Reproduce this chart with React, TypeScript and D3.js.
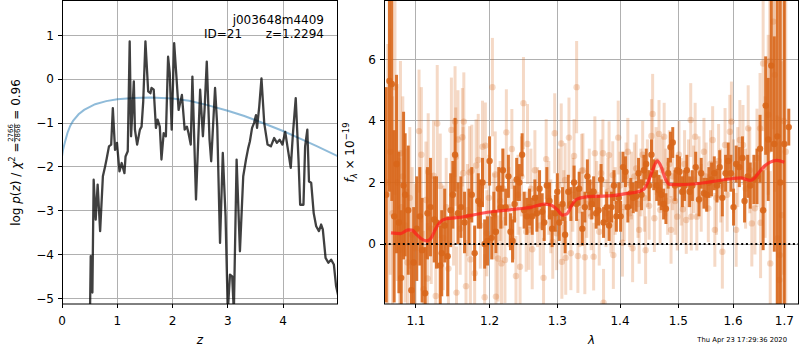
import React, { useEffect, useRef } from "react";
import * as d3 from "d3";

// ---------- data ----------
const zTicks = [0, 1, 2, 3, 4];
const logpTicks = [-5, -4, -3, -2, -1, 0, 1];
const lamTicks = [1.1, 1.2, 1.3, 1.4, 1.5, 1.6, 1.7];
const fluxTicks = [0, 2, 4, 6];

const objName = "j003648m4409";
const idLabel = "ID=21";
const zLabel = "z=1.2294";
const chi2Num = "2766";
const chi2Den = "2868";
const chi2Val = "0.96";
const stamp = "Thu Apr 23 17:29:36 2020";

// log p(z): [z, log p]
const pzCurve: [number, number][] = [
  [0.49, -6.0], [0.507, -5.3], [0.52, -4.03], [0.535, -4.1], [0.55, -4.86], [0.573, -2.29],
  [0.61, -3.2], [0.645, -2.4], [0.69, -3.46], [0.74, -2.21], [0.78, -1.99], [0.81, -1.8],
  [0.85, -1.53], [0.89, -1.49], [0.92, -0.66], [0.96, -1.61], [0.995, -1.45], [1.04, -2.1],
  [1.08, -1.91], [1.13, -2.14], [1.15, -1.76], [1.19, -1.64], [1.225, 0.86], [1.25, -1.3],
  [1.3, -0.05], [1.32, -1.15], [1.36, -1.49], [1.41, -1.15], [1.44, -1.08], [1.47, -0.51],
  [1.51, 0.86], [1.56, -0.28], [1.6, -0.32], [1.62, -0.2], [1.66, -0.24], [1.7, -1.11],
  [1.73, -0.92], [1.77, -1.08], [1.8, -1.83], [1.84, -1.23], [1.88, -1.3], [1.92, 0.51],
  [1.95, 0.14], [1.985, -1.15], [2.03, 0.82], [2.075, -0.02], [2.11, -0.7], [2.17, -0.36],
  [2.22, -1.15], [2.26, -1.08], [2.29, -1.23], [2.33, -1.49], [2.36, 0.06], [2.425, -2.74],
  [2.5, -0.24], [2.55, -1.3], [2.58, -0.7], [2.62, 0.4], [2.67, -1.38], [2.7, -1.87],
  [2.77, -0.2], [2.81, -1.08], [2.86, -3.73], [2.91, -1.68], [2.96, -3.12], [3.0, -5.3],
  [3.04, -4.45], [3.08, -4.49], [3.11, -5.3], [3.16, -1.83], [3.22, -3.92], [3.28, -2.21],
  [3.33, -1.83], [3.37, -1.57], [3.4, -1.42], [3.44, -1.11], [3.475, -1.0], [3.51, -0.82],
  [3.53, -1.11], [3.57, -0.62], [3.61, 0.02], [3.66, -1.0], [3.72, -1.49], [3.78, -1.53],
  [3.84, -1.34], [3.89, -1.45], [3.94, -1.38], [3.99, -1.49], [4.04, -1.2], [4.08, -1.53],
  [4.14, -2.02], [4.18, -1.23], [4.23, -0.43], [4.28, -1.83], [4.31, -2.86], [4.37, -2.86],
  [4.4, -1.53], [4.44, -1.15], [4.47, -2.33], [4.51, -2.36], [4.555, -3.05], [4.6, -3.35],
  [4.65, -3.46], [4.69, -3.31], [4.72, -3.42], [4.77, -4.07], [4.82, -4.18], [4.87, -4.11],
  [4.92, -4.22], [4.96, -4.71], [5.0, -4.94],
];

// prior: [z, log p]
const priorCurve: [number, number][] = [
  [0, -1.76], [0.02, -1.6], [0.05, -1.45], [0.1, -1.22], [0.15, -1.06], [0.2, -0.95],
  [0.3, -0.8], [0.4, -0.7], [0.6, -0.57], [0.8, -0.5], [1.0, -0.46], [1.3, -0.43],
  [1.6, -0.42], [2.0, -0.44], [2.3, -0.49], [2.6, -0.58], [3.0, -0.72], [3.3, -0.84],
  [3.6, -0.98], [4.0, -1.18], [4.3, -1.35], [4.6, -1.52], [5.0, -1.76],
];

// model: [lambda, flux]
const modelCurve: [number, number][] = [
  [1.068, 0.36], [1.08, 0.34], [1.09, 0.46], [1.095, 0.45], [1.1, 0.33], [1.107, 0.17],
  [1.114, 0.1], [1.12, 0.2], [1.126, 0.5], [1.132, 0.72], [1.14, 0.82], [1.16, 0.87],
  [1.18, 0.96], [1.2, 1.04], [1.22, 1.09], [1.24, 1.14], [1.26, 1.19], [1.28, 1.3],
  [1.29, 1.27], [1.3, 1.12], [1.308, 0.94], [1.315, 0.98], [1.322, 1.25], [1.33, 1.45],
  [1.345, 1.53], [1.36, 1.55], [1.388, 1.57], [1.41, 1.64], [1.43, 1.7], [1.44, 1.78],
  [1.45, 2.15], [1.457, 2.5], [1.463, 2.7], [1.47, 2.5], [1.477, 2.12], [1.484, 1.94],
  [1.5, 1.93], [1.527, 1.95], [1.55, 2.0], [1.58, 2.08], [1.6, 2.13], [1.615, 2.15],
  [1.625, 2.1], [1.632, 2.07], [1.64, 2.12], [1.65, 2.33], [1.66, 2.52], [1.672, 2.66],
  [1.685, 2.72], [1.7, 2.66],
];

// dark spectrum points: [lambda, flux, err]
const darkSpec: [number, number, number][] = [
  [1.062, 1.6, 3.5], [1.066, 5.3, 3.6], [1.069, 5.2, 3.8], [1.072, 0.9, 2.8], [1.075, 2.6, 2.9],
  [1.078, 0.7, 2.3], [1.081, -1.1, 2.2], [1.084, 1.9, 2.4], [1.086, 1.6, 2.0], [1.09, 1.1, 2.1],
  [1.094, -1.5, 1.9], [1.097, -0.6, 1.8], [1.101, 0.5, 1.7], [1.105, 0.9, 1.6], [1.108, -0.2, 1.7],
  [1.112, -1.6, 1.5], [1.115, 1.0, 1.5], [1.119, 1.2, 1.6], [1.124, 0.8, 1.4], [1.127, 0.7, 1.5],
  [1.132, -0.7, 1.3], [1.134, -0.3, 1.4], [1.138, 0.6, 1.2], [1.142, -0.4, 1.3], [1.146, 1.1, 1.2],
  [1.149, 1.6, 1.1], [1.152, 2.9, 1.2], [1.156, 1.0, 1.0], [1.16, 1.2, 1.0], [1.165, 0.7, 1.0],
  [1.171, 0.9, 0.9], [1.175, 1.6, 0.9], [1.179, -0.3, 0.9], [1.184, 1.4, 0.9], [1.187, 1.3, 0.8],
  [1.19, 2.0, 0.8], [1.193, 0.0, 0.8], [1.197, 0.1, 0.8], [1.2, 2.7, 0.8], [1.203, 0.2, 0.7],
  [1.206, 1.0, 0.7], [1.209, 0.4, 0.7], [1.213, 1.8, 0.7], [1.216, 1.2, 0.7], [1.219, 2.4, 0.7],
  [1.223, 1.2, 0.6], [1.227, 2.2, 0.7], [1.23, 0.4, 0.6], [1.233, 0.1, 0.7], [1.236, 1.3, 0.6],
  [1.239, 2.1, 0.7], [1.243, 2.0, 0.6], [1.247, 2.9, 0.7], [1.25, 1.1, 0.6], [1.254, 0.9, 0.6],
  [1.258, 1.2, 0.6], [1.262, 0.9, 0.6], [1.266, 1.5, 0.6], [1.269, 1.0, 0.6], [1.273, 1.8, 0.6],
  [1.277, 1.05, 0.6], [1.28, 0.7, 0.6], [1.284, 1.9, 0.6], [1.288, 1.4, 0.6], [1.292, 0.5, 0.6],
  [1.297, 1.0, 0.6], [1.3, 1.7, 0.6], [1.303, 0.7, 0.6], [1.308, 1.3, 0.55], [1.312, 0.3, 0.6],
  [1.317, 1.7, 0.55], [1.321, 1.3, 0.55], [1.326, 2.0, 0.55], [1.33, 1.3, 0.55], [1.334, 1.8, 0.55],
  [1.339, 0.5, 0.55], [1.343, 1.2, 0.5], [1.347, 2.2, 0.55], [1.351, 1.6, 0.5], [1.354, 1.3, 0.5],
  [1.357, 1.7, 0.5], [1.361, 1.0, 0.5], [1.365, 1.1, 0.5], [1.369, 2.1, 0.5], [1.373, 0.7, 0.5],
  [1.378, 1.2, 0.5], [1.382, 0.6, 0.5], [1.386, 1.2, 0.5], [1.39, 1.9, 0.5], [1.394, 0.9, 0.5],
  [1.398, 1.5, 0.5], [1.401, 0.9, 0.5], [1.405, 2.5, 0.5], [1.409, 2.35, 0.5], [1.413, 1.2, 0.5],
  [1.418, 1.65, 0.5], [1.422, 1.5, 0.5], [1.427, 1.55, 0.5], [1.431, 2.3, 0.5], [1.436, 1.6, 0.5],
  [1.44, 2.4, 0.5], [1.444, 2.6, 0.5], [1.449, 1.9, 0.5], [1.453, 2.9, 0.5], [1.457, 2.25, 0.5],
  [1.462, 1.9, 0.5], [1.466, 1.75, 0.5], [1.47, 1.6, 0.5], [1.474, 1.3, 0.5], [1.478, 1.15, 0.5],
  [1.482, 2.3, 0.5], [1.486, 3.15, 0.5], [1.49, 3.3, 0.5], [1.494, 1.9, 0.5], [1.498, 2.4, 0.5],
  [1.502, 2.35, 0.5], [1.507, 1.7, 0.5], [1.511, 1.9, 0.5], [1.515, 2.4, 0.5], [1.52, 1.7, 0.5],
  [1.525, 1.9, 0.5], [1.531, 2.5, 0.5], [1.537, 1.45, 0.55], [1.541, 2.3, 0.5], [1.546, 1.65, 0.5],
  [1.551, 1.6, 0.55], [1.555, 2.0, 0.5], [1.56, 2.1, 0.55], [1.565, 2.3, 0.55], [1.57, 1.9, 0.55],
  [1.575, 2.5, 0.55], [1.58, 1.5, 0.6], [1.586, 2.3, 0.6], [1.591, 2.7, 0.6], [1.596, 2.3, 0.6],
  [1.601, 1.2, 0.6], [1.606, 2.6, 0.6], [1.612, 2.5, 0.65], [1.618, 2.8, 0.7], [1.622, 1.4, 0.7],
  [1.628, 2.2, 0.7], [1.633, 1.9, 0.75], [1.64, 2.1, 0.8], [1.646, 2.2, 0.9], [1.652, 3.1, 1.1],
  [1.658, 1.1, 1.3], [1.663, 4.5, 1.6], [1.668, 3.4, 2.0], [1.674, 5.8, 2.8], [1.68, 3.25, 3.5],
  [1.686, 3.5, 5.5], [1.692, 2.0, 6.0], [1.7, 3.25, 6.0], [1.709, 3.8, 0.6],
];

// light spectrum points: [lambda, flux, err]
const lightSpec: [number, number, number][] = [
  [1.064, 2.0, 4.5], [1.067, 3.0, 4.0], [1.07, 1.0, 3.8], [1.073, 5.1, 3.5], [1.076, 2.0, 3.2],
  [1.079, -0.2, 3.0], [1.08, 2.95, 3.0], [1.081, 1.2, 2.8], [1.083, 2.2, 2.6], [1.086, 0.6, 2.5],
  [1.089, -0.6, 2.4], [1.092, 1.5, 2.3], [1.095, 0.3, 2.2], [1.099, -0.14, 2.1], [1.104, 3.67, 2.0],
  [1.107, 2.9, 2.2], [1.11, -1.47, 1.9], [1.113, 1.43, 1.9], [1.115, -1.12, 1.8], [1.116, 2.35, 1.9],
  [1.12, 0.5, 1.8], [1.123, 2.22, 1.8], [1.126, -1.69, 1.7], [1.128, 3.92, 1.9], [1.132, 1.89, 1.7],
  [1.136, 0.2, 1.7], [1.14, 1.2, 1.6], [1.143, -0.8, 1.6], [1.147, 3.71, 1.7], [1.15, 0.9, 1.6],
  [1.152, 3.98, 1.8], [1.153, 2.84, 1.6], [1.154, -1.58, 1.5], [1.156, 3.4, 1.6], [1.159, 0.5, 1.5],
  [1.162, 3.47, 1.6], [1.163, 2.3, 1.5], [1.164, 3.98, 1.6], [1.167, -1.37, 1.5], [1.169, 1.1, 1.5],
  [1.172, 2.33, 1.5], [1.173, -0.5, 1.5], [1.175, 2.38, 1.5], [1.179, -0.95, 1.5], [1.181, 2.55, 1.5],
  [1.184, 2.73, 1.5], [1.187, 0.6, 1.4], [1.19, 3.16, 1.5], [1.193, -1.73, 1.4], [1.194, 3.2, 1.4],
  [1.196, 0.35, 1.4], [1.199, 1.5, 1.4], [1.204, 5.1, 1.6], [1.206, 0.9, 1.4], [1.208, 2.26, 1.4],
  [1.209, -1.71, 1.4], [1.212, -0.47, 1.4], [1.215, 1.4, 1.3], [1.217, -0.63, 1.4], [1.219, 1.81, 1.3],
  [1.222, -0.52, 1.4], [1.224, 3.63, 1.4], [1.228, 1.2, 1.3], [1.232, 3.09, 1.3], [1.234, 0.8, 1.3],
  [1.238, -1.04, 1.3], [1.241, 1.6, 1.3], [1.244, -0.74, 1.3], [1.246, 2.2, 1.3], [1.249, 4.58, 1.5],
  [1.253, 0.4, 1.3], [1.255, 3.25, 1.3], [1.257, 0.46, 1.3], [1.26, 1.8, 1.3], [1.262, -0.17, 1.3],
  [1.266, 2.4, 1.3], [1.27, 1.2, 1.3], [1.274, 0.6, 1.3], [1.279, -1.1, 1.3], [1.283, 2.76, 1.3],
  [1.287, 1.5, 1.2], [1.29, 0.9, 1.2], [1.293, 0.07, 1.2], [1.296, 3.6, 1.3], [1.299, 0.35, 1.2],
  [1.302, 1.9, 1.2], [1.306, 3.27, 1.3], [1.307, -0.58, 1.2], [1.31, 1.2, 1.2], [1.312, 2.08, 1.2],
  [1.313, -0.45, 1.2], [1.318, 3.46, 1.3], [1.321, -0.3, 1.2], [1.324, 1.6, 1.2], [1.326, 2.86, 1.2],
  [1.33, 5.1, 1.5], [1.332, -0.39, 1.2], [1.335, 1.1, 1.2], [1.338, 2.38, 1.2], [1.34, 2.4, 1.2],
  [1.343, -0.43, 1.2], [1.346, 1.3, 1.1], [1.35, 2.0, 1.1], [1.353, 0.9, 1.1], [1.357, -0.41, 1.1],
  [1.359, 2.95, 1.2], [1.362, 1.6, 1.1], [1.366, 0.4, 1.1], [1.369, 2.3, 1.1], [1.372, 2.95, 1.1],
  [1.373, -1.91, 1.1], [1.377, 1.0, 1.1], [1.38, 1.7, 1.1], [1.382, 2.89, 1.1], [1.385, 0.8, 1.1],
  [1.388, 2.24, 1.1], [1.389, -0.36, 1.1], [1.392, 1.4, 1.1], [1.397, 3.46, 1.2], [1.4, 1.9, 1.1],
  [1.404, 0.04, 1.1], [1.407, 1.2, 1.1], [1.41, 2.2, 1.1], [1.413, 3.0, 1.1], [1.416, 1.0, 1.1],
  [1.419, 1.9, 1.1], [1.421, -0.14, 1.1], [1.424, 2.2, 1.1], [1.427, 2.46, 1.1], [1.43, 1.3, 1.1],
  [1.432, 0.46, 1.1], [1.435, 2.0, 1.1], [1.438, 2.9, 1.1], [1.441, 1.5, 1.1], [1.443, -0.2, 1.1],
  [1.446, 2.3, 1.1], [1.449, 1.24, 1.1], [1.453, 3.51, 1.2], [1.455, 4.23, 1.3], [1.458, 0.84, 1.1],
  [1.461, 2.7, 1.1], [1.466, 3.58, 1.1], [1.468, 1.11, 1.1], [1.471, 2.4, 1.1], [1.475, 3.49, 1.1],
  [1.478, 2.0, 1.1], [1.481, 1.4, 1.1], [1.484, 2.6, 1.1], [1.487, 0.46, 1.1], [1.49, 2.2, 1.1],
  [1.494, 1.4, 1.1], [1.498, 0.89, 1.1], [1.501, 2.9, 1.1], [1.505, 1.7, 1.1], [1.508, 1.13, 1.1],
  [1.511, 2.6, 1.1], [1.514, 0.78, 1.1], [1.518, 2.3, 1.1], [1.522, 4.03, 1.2], [1.523, 0.89, 1.1],
  [1.527, 2.1, 1.1], [1.53, 3.49, 1.1], [1.533, 0.89, 1.1], [1.537, 2.4, 1.1], [1.541, 1.5, 1.1],
  [1.546, 3.0, 1.1], [1.55, 2.2, 1.1], [1.554, 1.16, 1.1], [1.558, 2.6, 1.1], [1.562, 3.38, 1.1],
  [1.566, 0.46, 1.2], [1.569, 1.5, 1.2], [1.573, 2.7, 1.2], [1.577, 1.9, 1.2], [1.58, -0.25, 1.2],
  [1.585, 3.22, 1.2], [1.589, 1.6, 1.2], [1.594, 3.65, 1.2], [1.597, 3.98, 1.3], [1.601, 2.2, 1.2],
  [1.606, 0.46, 1.2], [1.609, 2.5, 1.3], [1.613, 3.38, 1.3], [1.619, 3.22, 1.3], [1.624, 1.8, 1.3],
  [1.629, 3.76, 1.4], [1.632, 2.4, 1.4], [1.636, 0.67, 1.4], [1.642, 1.16, 1.5], [1.646, 2.8, 1.6],
  [1.652, 3.76, 1.8], [1.653, 0.69, 1.8], [1.658, 5.87, 2.2], [1.662, 2.5, 2.3], [1.668, 4.2, 2.6],
  [1.671, 5.95, 3.0], [1.672, -0.63, 3.0], [1.678, 7.23, 3.5], [1.681, 5.5, 3.8], [1.686, 0.18, 4.0],
  [1.69, -1.17, 4.5], [1.691, -0.36, 4.5], [1.695, 0.94, 5.0], [1.699, 4.0, 5.0], [1.703, 3.0, 5.5],
];

// ---------- drawing ----------
const FONT = "DejaVu Sans, sans-serif";
const ORANGE = "#d8661a";

function fmt(v: number, digits = 0) {
  const s = v.toFixed(digits);
  return s.replace("-", "\u2212");
}

function draw(el: SVGSVGElement) {
  const svg = d3.select(el);
  svg.selectAll("*").remove();
  svg.append("rect").attr("width", 800).attr("height", 350).attr("fill", "white");

  const L = { x0: 62, x1: 338, y0: 1, y1: 304 };
  const R = { x0: 384, x1: 799, y0: 1, y1: 304 };

  const xz = d3.scaleLinear().domain([0, 4.995]).range([L.x0, L.x1]);
  const yp = d3.scaleLinear().domain([-5.12, 1.78]).range([L.y1, L.y0]);
  const xl = d3.scaleLog().domain([1.0592, 1.7298]).range([R.x0, R.x1]);
  const yf = d3.scaleLinear().domain([-1.95, 7.9]).range([R.y1, R.y0]);

  const defs = svg.append("defs");
  defs.append("clipPath").attr("id", "clipL").append("rect")
    .attr("x", L.x0).attr("y", L.y0).attr("width", L.x1 - L.x0).attr("height", L.y1 - L.y0);
  defs.append("clipPath").attr("id", "clipR").append("rect")
    .attr("x", R.x0).attr("y", R.y0).attr("width", R.x1 - R.x0).attr("height", R.y1 - R.y0);

  const grid = "#b0b0b0";
  const crisp = (v: number) => Math.round(v - 0.5) + 0.5;

  // ---- Left panel grid ----
  const gL = svg.append("g");
  zTicks.forEach((t) => {
    gL.append("line").attr("x1", crisp(xz(t))).attr("x2", crisp(xz(t))).attr("y1", L.y0).attr("y2", L.y1)
      .attr("stroke", grid).attr("stroke-width", 1);
  });
  logpTicks.forEach((t) => {
    gL.append("line").attr("y1", crisp(yp(t))).attr("y2", crisp(yp(t))).attr("x1", L.x0).attr("x2", L.x1)
      .attr("stroke", grid).attr("stroke-width", 1);
  });

  const lineL = d3.line<[number, number]>().x((d) => xz(d[0])).y((d) => yp(d[1]));
  const dataL = svg.append("g").attr("clip-path", "url(#clipL)");
  dataL.append("path").attr("d", lineL(priorCurve) as string).attr("fill", "none")
    .attr("stroke", "#1f77b4").attr("stroke-opacity", 0.5).attr("stroke-width", 2);
  dataL.append("path").attr("d", lineL(pzCurve) as string).attr("fill", "none")
    .attr("stroke", "#000").attr("stroke-opacity", 0.75).attr("stroke-width", 2.3)
    .attr("stroke-linejoin", "round");

  // ---- Right panel grid ----
  const gR = svg.append("g");
  lamTicks.forEach((t) => {
    gR.append("line").attr("x1", crisp(xl(t))).attr("x2", crisp(xl(t))).attr("y1", R.y0).attr("y2", R.y1)
      .attr("stroke", grid).attr("stroke-width", 1);
  });
  fluxTicks.forEach((t) => {
    gR.append("line").attr("y1", crisp(yf(t))).attr("y2", crisp(yf(t))).attr("x1", R.x0).attr("x2", R.x1)
      .attr("stroke", grid).attr("stroke-width", 1);
  });

  const dataR = svg.append("g").attr("clip-path", "url(#clipR)");
  const drawSpec = (pts: [number, number, number][], opacity: number) => {
    const g = dataR.append("g").attr("opacity", 1);
    pts.forEach(([l, f, e]) => {
      g.append("line").attr("x1", xl(l)).attr("x2", xl(l)).attr("y1", yf(f - e)).attr("y2", yf(f + e))
        .attr("stroke", ORANGE).attr("stroke-opacity", opacity).attr("stroke-width", 3);
    });
    pts.forEach(([l, f]) => {
      g.append("circle").attr("cx", xl(l)).attr("cy", yf(f)).attr("r", 3.2)
        .attr("fill", ORANGE).attr("fill-opacity", opacity);
    });
  };
  drawSpec(lightSpec, 0.25);
  drawSpec(darkSpec, 0.9);

  const lineR = d3.line<[number, number]>().x((d) => xl(d[0])).y((d) => yf(d[1])).curve(d3.curveMonotoneX);
  dataR.append("path").attr("d", lineR(modelCurve) as string).attr("fill", "none")
    .attr("stroke", "#ff1a1a").attr("stroke-opacity", 0.7).attr("stroke-width", 3.2)
    .attr("stroke-linejoin", "round");

  dataR.append("line").attr("x1", R.x0).attr("x2", R.x1).attr("y1", yf(0)).attr("y2", yf(0))
    .attr("stroke", "#000").attr("stroke-width", 2).attr("stroke-dasharray", "2 2.7");

  // ---- frames ----
  [L, R].forEach((P) => {
    svg.append("rect").attr("x", P.x0 + 0.5).attr("y", P.y0 - 0.5).attr("width", P.x1 - P.x0 - 1)
      .attr("height", P.y1 - P.y0 + 0.5).attr("fill", "none").attr("stroke", "#000").attr("stroke-width", 1);
  });

  // ---- ticks & labels ----
  const tickLen = 4;
  const labelY = 325;
  const axes = svg.append("g").attr("font-family", FONT).attr("font-size", 12).attr("fill", "#000");

  zTicks.forEach((t) => {
    const x = crisp(xz(t));
    axes.append("line").attr("x1", x).attr("x2", x).attr("y1", L.y1).attr("y2", L.y1 + tickLen)
      .attr("stroke", "#000").attr("stroke-width", 1);
    axes.append("text").attr("x", xz(t)).attr("y", labelY).attr("text-anchor", "middle").text(fmt(t));
  });
  logpTicks.forEach((t) => {
    const y = crisp(yp(t));
    axes.append("line").attr("x1", L.x0 - tickLen).attr("x2", L.x0).attr("y1", y).attr("y2", y)
      .attr("stroke", "#000").attr("stroke-width", 1);
    axes.append("text").attr("x", L.x0 - 8).attr("y", yp(t)).attr("dy", "0.36em")
      .attr("text-anchor", "end").text(fmt(t));
  });
  lamTicks.forEach((t) => {
    const x = crisp(xl(t));
    axes.append("line").attr("x1", x).attr("x2", x).attr("y1", R.y1).attr("y2", R.y1 + tickLen)
      .attr("stroke", "#000").attr("stroke-width", 1);
    axes.append("text").attr("x", xl(t)).attr("y", labelY).attr("text-anchor", "middle").text(fmt(t, 1));
  });
  fluxTicks.forEach((t) => {
    const y = crisp(yf(t));
    axes.append("line").attr("x1", R.x0 - tickLen).attr("x2", R.x0).attr("y1", y).attr("y2", y)
      .attr("stroke", "#000").attr("stroke-width", 1);
    axes.append("text").attr("x", R.x0 - 8).attr("y", yf(t)).attr("dy", "0.36em")
      .attr("text-anchor", "end").text(fmt(t));
  });

  // axis labels
  axes.append("text").attr("x", (L.x0 + L.x1) / 2).attr("y", 344).attr("text-anchor", "middle")
    .attr("font-style", "italic").text("z");
  axes.append("text").attr("x", (R.x0 + R.x1) / 2).attr("y", 344).attr("text-anchor", "middle")
    .attr("font-style", "italic").text("λ");

  // annotation in left panel
  axes.append("text").attr("x", 324).attr("y", 24).attr("text-anchor", "end").text(objName);
  axes.append("text").attr("x", 204).attr("y", 38).text(idLabel);
  axes.append("text").attr("x", 324).attr("y", 38).attr("text-anchor", "end").text(zLabel);

  // timestamp
  svg.append("text").attr("x", 787).attr("y", 342).attr("text-anchor", "end")
    .attr("font-family", FONT).attr("font-size", 6.8).text(stamp);

  // left y label with fraction
  {
    const g = svg.append("g").attr("font-family", FONT).attr("font-size", 12);
    const t1 = g.append("text");
    t1.append("tspan").text("log ");
    t1.append("tspan").attr("font-style", "italic").text("p");
    t1.append("tspan").text("(");
    t1.append("tspan").attr("font-style", "italic").text("z");
    t1.append("tspan").text(") / ");
    t1.append("tspan").attr("font-style", "italic").text("χ");
    t1.append("tspan").attr("font-size", 8.5).attr("dy", -5).text("2");
    t1.append("tspan").attr("dy", 5).text(" = ");
    const w1 = (t1.node() as SVGTextElement).getComputedTextLength();
    const num = g.append("text").attr("font-size", 7).attr("text-anchor", "middle").text(chi2Num);
    const den = g.append("text").attr("font-size", 7).attr("text-anchor", "middle").text(chi2Den);
    const fw = Math.max(
      (num.node() as SVGTextElement).getComputedTextLength(),
      (den.node() as SVGTextElement).getComputedTextLength()
    ) + 1;
    num.attr("x", w1 + fw / 2).attr("y", -6.6);
    den.attr("x", w1 + fw / 2).attr("y", 0.4);
    g.append("line").attr("x1", w1).attr("x2", w1 + fw).attr("y1", -5.4).attr("y2", -5.4)
      .attr("stroke", "#000").attr("stroke-width", 0.6);
    const t2 = g.append("text").attr("x", w1 + fw).text(" = " + chi2Val);
    t2.attr("style", "white-space: pre");
    const w2 = (t2.node() as SVGTextElement).getComputedTextLength();
    const W = w1 + fw + w2;
    g.attr("transform", `translate(20,${(L.y0 + L.y1) / 2}) rotate(-90) translate(${-W / 2},0)`);
  }

  // right y label
  {
    const g = svg.append("g").attr("font-family", FONT).attr("font-size", 12);
    const t = g.append("text");
    t.append("tspan").attr("font-style", "italic").text("f");
    t.append("tspan").attr("font-style", "italic").attr("font-size", 8.5).attr("dy", 3).text("λ");
    t.append("tspan").attr("dy", -3).text(" × 10");
    t.append("tspan").attr("font-size", 8.5).attr("dy", -5).text("\u221219");
    const W = (t.node() as SVGTextElement).getComputedTextLength();
    g.attr("transform", `translate(354,${(R.y0 + R.y1) / 2}) rotate(-90) translate(${-W / 2},0)`);
  }
}

export default function App() {
  const ref = useRef<SVGSVGElement>(null);
  useEffect(() => {
    if (ref.current) draw(ref.current);
  }, []);
  return (
    <svg
      ref={ref}
      width={800}
      height={350}
      style={{ position: "absolute", left: 0, top: 0, display: "block", background: "#fff" }}
    />
  );
}
